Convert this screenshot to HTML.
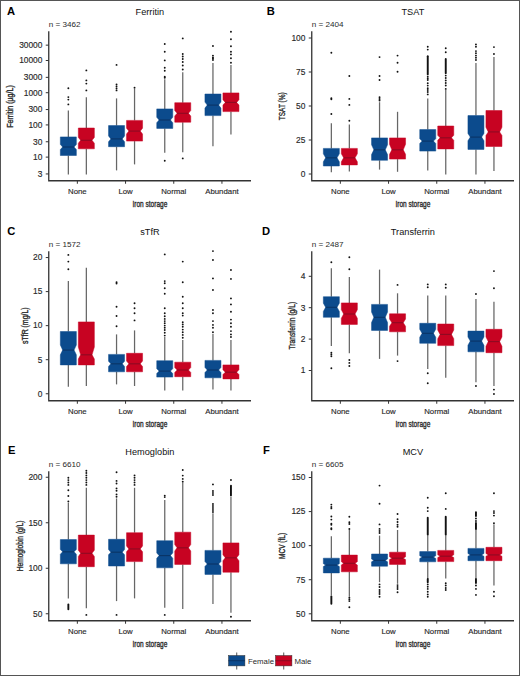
<!DOCTYPE html>
<html><head><meta charset="utf-8"><style>
html,body{margin:0;padding:0;background:#fff;}
svg{display:block;}
text{font-family:"Liberation Sans",sans-serif;}
</style></head><body>
<svg width="520" height="676" viewBox="0 0 520 676">
<rect x="0" y="0" width="520" height="676" fill="#fff"/>
<text x="6.9" y="14.7" font-size="11.2" font-weight="bold" fill="#000">A</text>
<text x="149.88" y="14.8" font-size="9.2" text-anchor="middle" fill="#111">Ferritin</text>
<text x="48.75" y="26.8" font-size="7.3" textLength="31.8" lengthAdjust="spacingAndGlyphs" fill="#2a2a2a">n = 3462</text>
<line x1="45.75" y1="173.95" x2="48.75" y2="173.95" stroke="#333333" stroke-width="1"/>
<text x="42.45" y="176.75" font-size="8.4" text-anchor="end" fill="#2a2a2a" stroke="#2a2a2a" stroke-width="0.15">3</text>
<line x1="45.75" y1="157.11" x2="48.75" y2="157.11" stroke="#333333" stroke-width="1"/>
<text x="42.45" y="159.91" font-size="8.4" text-anchor="end" fill="#2a2a2a" stroke="#2a2a2a" stroke-width="0.15">10</text>
<line x1="45.75" y1="141.75" x2="48.75" y2="141.75" stroke="#333333" stroke-width="1"/>
<text x="42.45" y="144.55" font-size="8.4" text-anchor="end" fill="#2a2a2a" stroke="#2a2a2a" stroke-width="0.15">30</text>
<line x1="45.75" y1="124.91" x2="48.75" y2="124.91" stroke="#333333" stroke-width="1"/>
<text x="42.45" y="127.71" font-size="8.4" text-anchor="end" fill="#2a2a2a" stroke="#2a2a2a" stroke-width="0.15">100</text>
<line x1="45.75" y1="109.55" x2="48.75" y2="109.55" stroke="#333333" stroke-width="1"/>
<text x="42.45" y="112.35" font-size="8.4" text-anchor="end" fill="#2a2a2a" stroke="#2a2a2a" stroke-width="0.15">300</text>
<line x1="45.75" y1="92.71" x2="48.75" y2="92.71" stroke="#333333" stroke-width="1"/>
<text x="42.45" y="95.51" font-size="8.4" text-anchor="end" fill="#2a2a2a" stroke="#2a2a2a" stroke-width="0.15">1000</text>
<line x1="45.75" y1="77.35" x2="48.75" y2="77.35" stroke="#333333" stroke-width="1"/>
<text x="42.45" y="80.15" font-size="8.4" text-anchor="end" fill="#2a2a2a" stroke="#2a2a2a" stroke-width="0.15">3000</text>
<line x1="45.75" y1="60.51" x2="48.75" y2="60.51" stroke="#333333" stroke-width="1"/>
<text x="42.45" y="63.31" font-size="8.4" text-anchor="end" fill="#2a2a2a" stroke="#2a2a2a" stroke-width="0.15">10000</text>
<line x1="45.75" y1="45.15" x2="48.75" y2="45.15" stroke="#333333" stroke-width="1"/>
<text x="42.45" y="47.95" font-size="8.4" text-anchor="end" fill="#2a2a2a" stroke="#2a2a2a" stroke-width="0.15">30000</text>
<text transform="translate(13.3,106.5) rotate(-90)" x="0" y="0" font-size="9" text-anchor="middle" textLength="42.6" lengthAdjust="spacingAndGlyphs" fill="#2a2a2a" stroke="#2a2a2a" stroke-width="0.35">Ferritin (µg/L)</text>
<line x1="77.35" y1="180.75" x2="77.35" y2="183.75" stroke="#333333" stroke-width="1"/>
<text x="77.35" y="193.6" font-size="7.8" text-anchor="middle" fill="#2a2a2a" stroke="#2a2a2a" stroke-width="0.15">None</text>
<line x1="125.55" y1="180.75" x2="125.55" y2="183.75" stroke="#333333" stroke-width="1"/>
<text x="125.55" y="193.6" font-size="7.8" text-anchor="middle" fill="#2a2a2a" stroke="#2a2a2a" stroke-width="0.15">Low</text>
<line x1="173.75" y1="180.75" x2="173.75" y2="183.75" stroke="#333333" stroke-width="1"/>
<text x="173.75" y="193.6" font-size="7.8" text-anchor="middle" fill="#2a2a2a" stroke="#2a2a2a" stroke-width="0.15">Normal</text>
<line x1="221.95" y1="180.75" x2="221.95" y2="183.75" stroke="#333333" stroke-width="1"/>
<text x="221.95" y="193.6" font-size="7.8" text-anchor="middle" fill="#2a2a2a" stroke="#2a2a2a" stroke-width="0.15">Abundant</text>
<text x="149.88" y="207" font-size="8.8" text-anchor="middle" textLength="34.8" lengthAdjust="spacingAndGlyphs" fill="#2a2a2a" stroke="#2a2a2a" stroke-width="0.35">Iron storage</text>
<line x1="68.35" y1="110.4" x2="68.35" y2="136.9" stroke="#666666" stroke-width="1.25"/>
<line x1="68.35" y1="155.5" x2="68.35" y2="174.4" stroke="#666666" stroke-width="1.25"/>
<circle cx="68.35" cy="88.2" r="0.95" fill="#111"/>
<circle cx="68.35" cy="97.1" r="0.95" fill="#111"/>
<circle cx="68.35" cy="99.6" r="0.95" fill="#111"/>
<circle cx="68.35" cy="104.4" r="0.95" fill="#111"/>
<polygon points="60.35,136.9 76.35,136.9 76.35,144.4 74.05,147 76.35,149.6 76.35,155.5 60.35,155.5 60.35,149.6 62.65,147 60.35,144.4" fill="#0c4b8d" stroke="#0c4b8d" stroke-width="0.5"/>
<line x1="62.65" y1="147" x2="74.05" y2="147" stroke="#0a3466" stroke-width="1.1"/>
<line x1="86.35" y1="97.3" x2="86.35" y2="128" stroke="#666666" stroke-width="1.25"/>
<line x1="86.35" y1="148.8" x2="86.35" y2="174.4" stroke="#666666" stroke-width="1.25"/>
<circle cx="86.35" cy="70.4" r="0.95" fill="#111"/>
<circle cx="86.35" cy="80.4" r="0.95" fill="#111"/>
<circle cx="86.35" cy="83.6" r="0.95" fill="#111"/>
<circle cx="86.35" cy="90.4" r="0.95" fill="#111"/>
<polygon points="78.35,128 94.35,128 94.35,137.39 92.05,140.3 94.35,143.21 94.35,148.8 78.35,148.8 78.35,143.21 80.65,140.3 78.35,137.39" fill="#c70322" stroke="#c70322" stroke-width="0.5"/>
<line x1="80.65" y1="140.3" x2="92.05" y2="140.3" stroke="#8e0a22" stroke-width="1.1"/>
<line x1="116.55" y1="98.4" x2="116.55" y2="125.6" stroke="#666666" stroke-width="1.25"/>
<line x1="116.55" y1="146.7" x2="116.55" y2="170.4" stroke="#666666" stroke-width="1.25"/>
<circle cx="116.55" cy="64.9" r="0.95" fill="#111"/>
<circle cx="116.55" cy="84.5" r="0.95" fill="#111"/>
<circle cx="116.55" cy="86.5" r="0.95" fill="#111"/>
<circle cx="116.55" cy="88.5" r="0.95" fill="#111"/>
<circle cx="116.55" cy="90.4" r="0.95" fill="#111"/>
<polygon points="108.55,125.6 124.55,125.6 124.55,135.95 122.25,138.9 124.55,141.85 124.55,146.7 108.55,146.7 108.55,141.85 110.85,138.9 108.55,135.95" fill="#0c4b8d" stroke="#0c4b8d" stroke-width="0.5"/>
<line x1="110.85" y1="138.9" x2="122.25" y2="138.9" stroke="#0a3466" stroke-width="1.1"/>
<line x1="134.55" y1="89" x2="134.55" y2="120.4" stroke="#666666" stroke-width="1.25"/>
<line x1="134.55" y1="141.1" x2="134.55" y2="164.4" stroke="#666666" stroke-width="1.25"/>
<circle cx="134.55" cy="87.8" r="0.95" fill="#111"/>
<polygon points="126.55,120.4 142.55,120.4 142.55,128.2 140.25,131.1 142.55,134 142.55,141.1 126.55,141.1 126.55,134 128.85,131.1 126.55,128.2" fill="#c70322" stroke="#c70322" stroke-width="0.5"/>
<line x1="128.85" y1="131.1" x2="140.25" y2="131.1" stroke="#8e0a22" stroke-width="1.1"/>
<line x1="164.75" y1="79.3" x2="164.75" y2="108.9" stroke="#666666" stroke-width="1.25"/>
<line x1="164.75" y1="128.4" x2="164.75" y2="152.7" stroke="#666666" stroke-width="1.25"/>
<circle cx="164.75" cy="44" r="0.95" fill="#111"/>
<circle cx="164.75" cy="51.8" r="0.95" fill="#111"/>
<circle cx="164.75" cy="60.4" r="0.95" fill="#111"/>
<circle cx="164.75" cy="67.8" r="0.95" fill="#111"/>
<circle cx="164.75" cy="70.7" r="0.95" fill="#111"/>
<circle cx="164.75" cy="76.7" r="0.95" fill="#111"/>
<circle cx="164.75" cy="77.8" r="0.95" fill="#111"/>
<circle cx="164.75" cy="160.7" r="0.95" fill="#111"/>
<polygon points="156.75,108.9 172.75,108.9 172.75,117.27 170.45,120 172.75,122.73 172.75,128.4 156.75,128.4 156.75,122.73 159.05,120 156.75,117.27" fill="#0c4b8d" stroke="#0c4b8d" stroke-width="0.5"/>
<line x1="159.05" y1="120" x2="170.45" y2="120" stroke="#0a3466" stroke-width="1.1"/>
<line x1="182.75" y1="72.2" x2="182.75" y2="102.7" stroke="#666666" stroke-width="1.25"/>
<line x1="182.75" y1="122.2" x2="182.75" y2="152.2" stroke="#666666" stroke-width="1.25"/>
<circle cx="182.75" cy="38.4" r="0.95" fill="#111"/>
<circle cx="182.75" cy="54" r="0.95" fill="#111"/>
<circle cx="182.75" cy="56.5" r="0.95" fill="#111"/>
<circle cx="182.75" cy="59" r="0.95" fill="#111"/>
<circle cx="182.75" cy="62" r="0.95" fill="#111"/>
<circle cx="182.75" cy="65.5" r="0.95" fill="#111"/>
<circle cx="182.75" cy="69.5" r="0.95" fill="#111"/>
<circle cx="182.75" cy="158.4" r="0.95" fill="#111"/>
<polygon points="174.75,102.7 190.75,102.7 190.75,110.57 188.45,113.3 190.75,116.03 190.75,122.2 174.75,122.2 174.75,116.03 177.05,113.3 174.75,110.57" fill="#c70322" stroke="#c70322" stroke-width="0.5"/>
<line x1="177.05" y1="113.3" x2="188.45" y2="113.3" stroke="#8e0a22" stroke-width="1.1"/>
<line x1="212.95" y1="62.9" x2="212.95" y2="94" stroke="#666666" stroke-width="1.25"/>
<line x1="212.95" y1="115.6" x2="212.95" y2="146.2" stroke="#666666" stroke-width="1.25"/>
<circle cx="212.95" cy="46" r="0.95" fill="#111"/>
<circle cx="212.95" cy="55.6" r="0.95" fill="#111"/>
<circle cx="212.95" cy="57.5" r="0.95" fill="#111"/>
<circle cx="212.95" cy="58.5" r="0.95" fill="#111"/>
<circle cx="212.95" cy="60" r="0.95" fill="#111"/>
<polygon points="204.95,94 220.95,94 220.95,102.08 218.65,105.1 220.95,108.12 220.95,115.6 204.95,115.6 204.95,108.12 207.25,105.1 204.95,102.08" fill="#0c4b8d" stroke="#0c4b8d" stroke-width="0.5"/>
<line x1="207.25" y1="105.1" x2="218.65" y2="105.1" stroke="#0a3466" stroke-width="1.1"/>
<line x1="230.95" y1="65.1" x2="230.95" y2="92.9" stroke="#666666" stroke-width="1.25"/>
<line x1="230.95" y1="111.6" x2="230.95" y2="134.4" stroke="#666666" stroke-width="1.25"/>
<circle cx="230.95" cy="31.8" r="0.95" fill="#111"/>
<circle cx="230.95" cy="39.3" r="0.95" fill="#111"/>
<circle cx="230.95" cy="46.2" r="0.95" fill="#111"/>
<circle cx="230.95" cy="51.8" r="0.95" fill="#111"/>
<circle cx="230.95" cy="54.4" r="0.95" fill="#111"/>
<circle cx="230.95" cy="58.2" r="0.95" fill="#111"/>
<circle cx="230.95" cy="62.7" r="0.95" fill="#111"/>
<polygon points="222.95,92.9 238.95,92.9 238.95,99.78 236.65,102.4 238.95,105.02 238.95,111.6 222.95,111.6 222.95,105.02 225.25,102.4 222.95,99.78" fill="#c70322" stroke="#c70322" stroke-width="0.5"/>
<line x1="225.25" y1="102.4" x2="236.65" y2="102.4" stroke="#8e0a22" stroke-width="1.1"/>
<path d="M48.75,31.25 L48.75,180.75 L251,180.75" fill="none" stroke="#333333" stroke-width="1.3"/>
<text x="266.8" y="14.7" font-size="11.2" font-weight="bold" fill="#000">B</text>
<text x="412.88" y="14.8" font-size="9.2" text-anchor="middle" fill="#111">TSAT</text>
<text x="311.75" y="26.8" font-size="7.3" textLength="31.8" lengthAdjust="spacingAndGlyphs" fill="#2a2a2a">n = 2404</text>
<line x1="308.75" y1="174" x2="311.75" y2="174" stroke="#333333" stroke-width="1"/>
<text x="305.45" y="176.8" font-size="8.4" text-anchor="end" fill="#2a2a2a" stroke="#2a2a2a" stroke-width="0.15">0</text>
<line x1="308.75" y1="140" x2="311.75" y2="140" stroke="#333333" stroke-width="1"/>
<text x="305.45" y="142.8" font-size="8.4" text-anchor="end" fill="#2a2a2a" stroke="#2a2a2a" stroke-width="0.15">25</text>
<line x1="308.75" y1="106" x2="311.75" y2="106" stroke="#333333" stroke-width="1"/>
<text x="305.45" y="108.8" font-size="8.4" text-anchor="end" fill="#2a2a2a" stroke="#2a2a2a" stroke-width="0.15">50</text>
<line x1="308.75" y1="72" x2="311.75" y2="72" stroke="#333333" stroke-width="1"/>
<text x="305.45" y="74.8" font-size="8.4" text-anchor="end" fill="#2a2a2a" stroke="#2a2a2a" stroke-width="0.15">75</text>
<line x1="308.75" y1="38" x2="311.75" y2="38" stroke="#333333" stroke-width="1"/>
<text x="305.45" y="40.8" font-size="8.4" text-anchor="end" fill="#2a2a2a" stroke="#2a2a2a" stroke-width="0.15">100</text>
<text transform="translate(285.4,106.3) rotate(-90)" x="0" y="0" font-size="9" text-anchor="middle" textLength="27.9" lengthAdjust="spacingAndGlyphs" fill="#2a2a2a" stroke="#2a2a2a" stroke-width="0.35">TSAT (%)</text>
<line x1="340.35" y1="180.75" x2="340.35" y2="183.75" stroke="#333333" stroke-width="1"/>
<text x="340.35" y="193.6" font-size="7.8" text-anchor="middle" fill="#2a2a2a" stroke="#2a2a2a" stroke-width="0.15">None</text>
<line x1="388.55" y1="180.75" x2="388.55" y2="183.75" stroke="#333333" stroke-width="1"/>
<text x="388.55" y="193.6" font-size="7.8" text-anchor="middle" fill="#2a2a2a" stroke="#2a2a2a" stroke-width="0.15">Low</text>
<line x1="436.75" y1="180.75" x2="436.75" y2="183.75" stroke="#333333" stroke-width="1"/>
<text x="436.75" y="193.6" font-size="7.8" text-anchor="middle" fill="#2a2a2a" stroke="#2a2a2a" stroke-width="0.15">Normal</text>
<line x1="484.95" y1="180.75" x2="484.95" y2="183.75" stroke="#333333" stroke-width="1"/>
<text x="484.95" y="193.6" font-size="7.8" text-anchor="middle" fill="#2a2a2a" stroke="#2a2a2a" stroke-width="0.15">Abundant</text>
<text x="412.88" y="207" font-size="8.8" text-anchor="middle" textLength="34.8" lengthAdjust="spacingAndGlyphs" fill="#2a2a2a" stroke="#2a2a2a" stroke-width="0.35">Iron storage</text>
<line x1="331.35" y1="123.3" x2="331.35" y2="148.4" stroke="#666666" stroke-width="1.25"/>
<line x1="331.35" y1="166" x2="331.35" y2="172.2" stroke="#666666" stroke-width="1.25"/>
<circle cx="331.35" cy="52.7" r="0.95" fill="#111"/>
<circle cx="331.35" cy="98.2" r="0.95" fill="#111"/>
<circle cx="331.35" cy="99.3" r="0.95" fill="#111"/>
<circle cx="331.35" cy="114" r="0.95" fill="#111"/>
<polygon points="323.35,148.4 339.35,148.4 339.35,153.8 337.05,157.8 339.35,161.8 339.35,166 323.35,166 323.35,161.8 325.65,157.8 323.35,153.8" fill="#0c4b8d" stroke="#0c4b8d" stroke-width="0.5"/>
<line x1="325.65" y1="157.8" x2="337.05" y2="157.8" stroke="#0a3466" stroke-width="1.1"/>
<line x1="349.35" y1="124.4" x2="349.35" y2="148.4" stroke="#666666" stroke-width="1.25"/>
<line x1="349.35" y1="164.9" x2="349.35" y2="171.6" stroke="#666666" stroke-width="1.25"/>
<circle cx="349.35" cy="76" r="0.95" fill="#111"/>
<circle cx="349.35" cy="98.9" r="0.95" fill="#111"/>
<circle cx="349.35" cy="104.9" r="0.95" fill="#111"/>
<circle cx="349.35" cy="120.7" r="0.95" fill="#111"/>
<polygon points="341.35,148.4 357.35,148.4 357.35,153.8 355.05,157.8 357.35,161.8 357.35,164.9 341.35,164.9 341.35,161.8 343.65,157.8 341.35,153.8" fill="#c70322" stroke="#c70322" stroke-width="0.5"/>
<line x1="343.65" y1="157.8" x2="355.05" y2="157.8" stroke="#8e0a22" stroke-width="1.1"/>
<line x1="379.55" y1="102.2" x2="379.55" y2="137.9" stroke="#666666" stroke-width="1.25"/>
<line x1="379.55" y1="160.3" x2="379.55" y2="169.6" stroke="#666666" stroke-width="1.25"/>
<circle cx="379.55" cy="57.1" r="0.95" fill="#111"/>
<circle cx="379.55" cy="76" r="0.95" fill="#111"/>
<circle cx="379.55" cy="80" r="0.95" fill="#111"/>
<circle cx="379.55" cy="97.3" r="0.95" fill="#111"/>
<circle cx="379.55" cy="99" r="0.95" fill="#111"/>
<circle cx="379.55" cy="100.5" r="0.95" fill="#111"/>
<polygon points="371.55,137.9 387.55,137.9 387.55,144.8 385.25,149.8 387.55,154.6 387.55,160.3 371.55,160.3 371.55,154.6 373.85,149.8 371.55,144.8" fill="#0c4b8d" stroke="#0c4b8d" stroke-width="0.5"/>
<line x1="373.85" y1="149.8" x2="385.25" y2="149.8" stroke="#0a3466" stroke-width="1.1"/>
<line x1="397.55" y1="111.8" x2="397.55" y2="137.9" stroke="#666666" stroke-width="1.25"/>
<line x1="397.55" y1="159.1" x2="397.55" y2="171.8" stroke="#666666" stroke-width="1.25"/>
<circle cx="397.55" cy="55.6" r="0.95" fill="#111"/>
<circle cx="397.55" cy="62.7" r="0.95" fill="#111"/>
<circle cx="397.55" cy="71.8" r="0.95" fill="#111"/>
<polygon points="389.55,137.9 405.55,137.9 405.55,144.3 403.25,149.8 405.55,154.3 405.55,159.1 389.55,159.1 389.55,154.3 391.85,149.8 389.55,144.3" fill="#c70322" stroke="#c70322" stroke-width="0.5"/>
<line x1="391.85" y1="149.8" x2="403.25" y2="149.8" stroke="#8e0a22" stroke-width="1.1"/>
<line x1="427.75" y1="98.4" x2="427.75" y2="129.6" stroke="#666666" stroke-width="1.25"/>
<line x1="427.75" y1="151.1" x2="427.75" y2="170.4" stroke="#666666" stroke-width="1.25"/>
<circle cx="427.75" cy="46.7" r="0.95" fill="#111"/>
<circle cx="427.75" cy="49.6" r="0.95" fill="#111"/>
<line x1="427.75" y1="56.2" x2="427.75" y2="74.4" stroke="#111" stroke-width="1.9" stroke-linecap="round"/>
<circle cx="427.75" cy="76.7" r="0.95" fill="#111"/>
<circle cx="427.75" cy="78.5" r="0.95" fill="#111"/>
<circle cx="427.75" cy="80" r="0.95" fill="#111"/>
<circle cx="427.75" cy="83.3" r="0.95" fill="#111"/>
<circle cx="427.75" cy="85.6" r="0.95" fill="#111"/>
<circle cx="427.75" cy="88.2" r="0.95" fill="#111"/>
<circle cx="427.75" cy="90" r="0.95" fill="#111"/>
<circle cx="427.75" cy="92" r="0.95" fill="#111"/>
<circle cx="427.75" cy="94.4" r="0.95" fill="#111"/>
<polygon points="419.75,129.6 435.75,129.6 435.75,138.7 433.45,141.1 435.75,143.5 435.75,151.1 419.75,151.1 419.75,143.5 422.05,141.1 419.75,138.7" fill="#0c4b8d" stroke="#0c4b8d" stroke-width="0.5"/>
<line x1="422.05" y1="141.1" x2="433.45" y2="141.1" stroke="#0a3466" stroke-width="1.1"/>
<line x1="445.75" y1="90" x2="445.75" y2="126" stroke="#666666" stroke-width="1.25"/>
<line x1="445.75" y1="148.9" x2="445.75" y2="174.4" stroke="#666666" stroke-width="1.25"/>
<circle cx="445.75" cy="48.2" r="0.95" fill="#111"/>
<circle cx="445.75" cy="52.2" r="0.95" fill="#111"/>
<line x1="445.75" y1="58.9" x2="445.75" y2="73.3" stroke="#111" stroke-width="1.9" stroke-linecap="round"/>
<circle cx="445.75" cy="75.6" r="0.95" fill="#111"/>
<circle cx="445.75" cy="78" r="0.95" fill="#111"/>
<circle cx="445.75" cy="80.5" r="0.95" fill="#111"/>
<circle cx="445.75" cy="83" r="0.95" fill="#111"/>
<circle cx="445.75" cy="85.5" r="0.95" fill="#111"/>
<circle cx="445.75" cy="88.9" r="0.95" fill="#111"/>
<polygon points="437.75,126 453.75,126 453.75,135.28 451.45,137.8 453.75,140.32 453.75,148.9 437.75,148.9 437.75,140.32 440.05,137.8 437.75,135.28" fill="#c70322" stroke="#c70322" stroke-width="0.5"/>
<line x1="440.05" y1="137.8" x2="451.45" y2="137.8" stroke="#8e0a22" stroke-width="1.1"/>
<line x1="475.95" y1="62.9" x2="475.95" y2="115.6" stroke="#666666" stroke-width="1.25"/>
<line x1="475.95" y1="149.4" x2="475.95" y2="174.4" stroke="#666666" stroke-width="1.25"/>
<circle cx="475.95" cy="44.4" r="0.95" fill="#111"/>
<circle cx="475.95" cy="46.7" r="0.95" fill="#111"/>
<circle cx="475.95" cy="51.1" r="0.95" fill="#111"/>
<circle cx="475.95" cy="53.3" r="0.95" fill="#111"/>
<circle cx="475.95" cy="55.6" r="0.95" fill="#111"/>
<circle cx="475.95" cy="57.8" r="0.95" fill="#111"/>
<circle cx="475.95" cy="60" r="0.95" fill="#111"/>
<polygon points="467.95,115.6 483.95,115.6 483.95,133.38 481.65,137.1 483.95,140.82 483.95,149.4 467.95,149.4 467.95,140.82 470.25,137.1 467.95,133.38" fill="#0c4b8d" stroke="#0c4b8d" stroke-width="0.5"/>
<line x1="470.25" y1="137.1" x2="481.65" y2="137.1" stroke="#0a3466" stroke-width="1.1"/>
<line x1="493.95" y1="57.1" x2="493.95" y2="110.5" stroke="#666666" stroke-width="1.25"/>
<line x1="493.95" y1="146.5" x2="493.95" y2="171.1" stroke="#666666" stroke-width="1.25"/>
<circle cx="493.95" cy="47.1" r="0.95" fill="#111"/>
<circle cx="493.95" cy="54" r="0.95" fill="#111"/>
<polygon points="485.95,110.5 501.95,110.5 501.95,127.2 499.65,131.9 501.95,135.5 501.95,146.5 485.95,146.5 485.95,135.5 488.25,131.9 485.95,127.2" fill="#c70322" stroke="#c70322" stroke-width="0.5"/>
<line x1="488.25" y1="131.9" x2="499.65" y2="131.9" stroke="#8e0a22" stroke-width="1.1"/>
<path d="M311.75,31.25 L311.75,180.75 L514,180.75" fill="none" stroke="#333333" stroke-width="1.3"/>
<text x="7.2" y="234.7" font-size="11.2" font-weight="bold" fill="#000">C</text>
<text x="149.88" y="234.8" font-size="9.2" text-anchor="middle" fill="#111">sTfR</text>
<text x="48.75" y="246.8" font-size="7.3" textLength="31.8" lengthAdjust="spacingAndGlyphs" fill="#2a2a2a">n = 1572</text>
<line x1="45.75" y1="393.75" x2="48.75" y2="393.75" stroke="#333333" stroke-width="1"/>
<text x="42.45" y="396.55" font-size="8.4" text-anchor="end" fill="#2a2a2a" stroke="#2a2a2a" stroke-width="0.15">0</text>
<line x1="45.75" y1="359.7" x2="48.75" y2="359.7" stroke="#333333" stroke-width="1"/>
<text x="42.45" y="362.5" font-size="8.4" text-anchor="end" fill="#2a2a2a" stroke="#2a2a2a" stroke-width="0.15">5</text>
<line x1="45.75" y1="325.65" x2="48.75" y2="325.65" stroke="#333333" stroke-width="1"/>
<text x="42.45" y="328.45" font-size="8.4" text-anchor="end" fill="#2a2a2a" stroke="#2a2a2a" stroke-width="0.15">10</text>
<line x1="45.75" y1="291.6" x2="48.75" y2="291.6" stroke="#333333" stroke-width="1"/>
<text x="42.45" y="294.4" font-size="8.4" text-anchor="end" fill="#2a2a2a" stroke="#2a2a2a" stroke-width="0.15">15</text>
<line x1="45.75" y1="257.55" x2="48.75" y2="257.55" stroke="#333333" stroke-width="1"/>
<text x="42.45" y="260.35" font-size="8.4" text-anchor="end" fill="#2a2a2a" stroke="#2a2a2a" stroke-width="0.15">20</text>
<text transform="translate(28.1,325.7) rotate(-90)" x="0" y="0" font-size="9" text-anchor="middle" textLength="36.5" lengthAdjust="spacingAndGlyphs" fill="#2a2a2a" stroke="#2a2a2a" stroke-width="0.35">sTfR (mg/L)</text>
<line x1="77.35" y1="400.75" x2="77.35" y2="403.75" stroke="#333333" stroke-width="1"/>
<text x="77.35" y="413.6" font-size="7.8" text-anchor="middle" fill="#2a2a2a" stroke="#2a2a2a" stroke-width="0.15">None</text>
<line x1="125.55" y1="400.75" x2="125.55" y2="403.75" stroke="#333333" stroke-width="1"/>
<text x="125.55" y="413.6" font-size="7.8" text-anchor="middle" fill="#2a2a2a" stroke="#2a2a2a" stroke-width="0.15">Low</text>
<line x1="173.75" y1="400.75" x2="173.75" y2="403.75" stroke="#333333" stroke-width="1"/>
<text x="173.75" y="413.6" font-size="7.8" text-anchor="middle" fill="#2a2a2a" stroke="#2a2a2a" stroke-width="0.15">Normal</text>
<line x1="221.95" y1="400.75" x2="221.95" y2="403.75" stroke="#333333" stroke-width="1"/>
<text x="221.95" y="413.6" font-size="7.8" text-anchor="middle" fill="#2a2a2a" stroke="#2a2a2a" stroke-width="0.15">Abundant</text>
<text x="149.88" y="427" font-size="8.8" text-anchor="middle" textLength="34.8" lengthAdjust="spacingAndGlyphs" fill="#2a2a2a" stroke="#2a2a2a" stroke-width="0.35">Iron storage</text>
<line x1="68.35" y1="281.1" x2="68.35" y2="331.5" stroke="#666666" stroke-width="1.25"/>
<line x1="68.35" y1="364.9" x2="68.35" y2="386.7" stroke="#666666" stroke-width="1.25"/>
<circle cx="68.35" cy="254.9" r="0.95" fill="#111"/>
<circle cx="68.35" cy="261.6" r="0.95" fill="#111"/>
<circle cx="68.35" cy="269.3" r="0.95" fill="#111"/>
<polygon points="60.35,331.5 76.35,331.5 76.35,345 74.05,350.1 76.35,354.8 76.35,364.9 60.35,364.9 60.35,354.8 62.65,350.1 60.35,345" fill="#0c4b8d" stroke="#0c4b8d" stroke-width="0.5"/>
<line x1="62.65" y1="350.1" x2="74.05" y2="350.1" stroke="#0a3466" stroke-width="1.1"/>
<line x1="86.35" y1="267.8" x2="86.35" y2="321.9" stroke="#666666" stroke-width="1.25"/>
<line x1="86.35" y1="364.9" x2="86.35" y2="386" stroke="#666666" stroke-width="1.25"/>
<polygon points="78.35,321.9 94.35,321.9 94.35,347.1 92.05,354.8 94.35,359 94.35,364.9 78.35,364.9 78.35,359 80.65,354.8 78.35,347.1" fill="#c70322" stroke="#c70322" stroke-width="0.5"/>
<line x1="80.65" y1="354.8" x2="92.05" y2="354.8" stroke="#8e0a22" stroke-width="1.1"/>
<line x1="116.55" y1="334.4" x2="116.55" y2="354.4" stroke="#666666" stroke-width="1.25"/>
<line x1="116.55" y1="371.8" x2="116.55" y2="384.4" stroke="#666666" stroke-width="1.25"/>
<circle cx="116.55" cy="282.3" r="0.95" fill="#111"/>
<circle cx="116.55" cy="283.5" r="0.95" fill="#111"/>
<circle cx="116.55" cy="306.7" r="0.95" fill="#111"/>
<circle cx="116.55" cy="316" r="0.95" fill="#111"/>
<circle cx="116.55" cy="326.2" r="0.95" fill="#111"/>
<polygon points="108.55,354.4 124.55,354.4 124.55,361.19 122.25,363.8 124.55,366.41 124.55,371.8 108.55,371.8 108.55,366.41 110.85,363.8 108.55,361.19" fill="#0c4b8d" stroke="#0c4b8d" stroke-width="0.5"/>
<line x1="110.85" y1="363.8" x2="122.25" y2="363.8" stroke="#0a3466" stroke-width="1.1"/>
<line x1="134.55" y1="330.4" x2="134.55" y2="353.3" stroke="#666666" stroke-width="1.25"/>
<line x1="134.55" y1="371.8" x2="134.55" y2="386" stroke="#666666" stroke-width="1.25"/>
<circle cx="134.55" cy="303.3" r="0.95" fill="#111"/>
<circle cx="134.55" cy="308.2" r="0.95" fill="#111"/>
<circle cx="134.55" cy="313.3" r="0.95" fill="#111"/>
<circle cx="134.55" cy="320.4" r="0.95" fill="#111"/>
<polygon points="126.55,353.3 142.55,353.3 142.55,361.03 140.25,363.8 142.55,366.57 142.55,371.8 126.55,371.8 126.55,366.57 128.85,363.8 126.55,361.03" fill="#c70322" stroke="#c70322" stroke-width="0.5"/>
<line x1="128.85" y1="363.8" x2="140.25" y2="363.8" stroke="#8e0a22" stroke-width="1.1"/>
<line x1="164.75" y1="337.1" x2="164.75" y2="360.7" stroke="#666666" stroke-width="1.25"/>
<line x1="164.75" y1="377.1" x2="164.75" y2="390.4" stroke="#666666" stroke-width="1.25"/>
<circle cx="164.75" cy="254.4" r="0.95" fill="#111"/>
<circle cx="164.75" cy="281.1" r="0.95" fill="#111"/>
<circle cx="164.75" cy="283.3" r="0.95" fill="#111"/>
<circle cx="164.75" cy="288.2" r="0.95" fill="#111"/>
<circle cx="164.75" cy="293.8" r="0.95" fill="#111"/>
<circle cx="164.75" cy="308.2" r="0.95" fill="#111"/>
<circle cx="164.75" cy="313.3" r="0.95" fill="#111"/>
<circle cx="164.75" cy="316.2" r="0.95" fill="#111"/>
<circle cx="164.75" cy="318.9" r="0.95" fill="#111"/>
<circle cx="164.75" cy="321.1" r="0.95" fill="#111"/>
<circle cx="164.75" cy="323.3" r="0.95" fill="#111"/>
<circle cx="164.75" cy="325.6" r="0.95" fill="#111"/>
<circle cx="164.75" cy="327.8" r="0.95" fill="#111"/>
<circle cx="164.75" cy="330" r="0.95" fill="#111"/>
<circle cx="164.75" cy="332.7" r="0.95" fill="#111"/>
<circle cx="164.75" cy="335.6" r="0.95" fill="#111"/>
<polygon points="156.75,360.7 172.75,360.7 172.75,368.64 170.45,371.1 172.75,373.56 172.75,377.1 156.75,377.1 156.75,373.56 159.05,371.1 156.75,368.64" fill="#0c4b8d" stroke="#0c4b8d" stroke-width="0.5"/>
<line x1="159.05" y1="371.1" x2="170.45" y2="371.1" stroke="#0a3466" stroke-width="1.1"/>
<line x1="182.75" y1="340" x2="182.75" y2="362.2" stroke="#666666" stroke-width="1.25"/>
<line x1="182.75" y1="376.7" x2="182.75" y2="390.4" stroke="#666666" stroke-width="1.25"/>
<circle cx="182.75" cy="261.6" r="0.95" fill="#111"/>
<circle cx="182.75" cy="282.2" r="0.95" fill="#111"/>
<circle cx="182.75" cy="296.7" r="0.95" fill="#111"/>
<circle cx="182.75" cy="303.3" r="0.95" fill="#111"/>
<circle cx="182.75" cy="308.2" r="0.95" fill="#111"/>
<circle cx="182.75" cy="313.3" r="0.95" fill="#111"/>
<circle cx="182.75" cy="315.6" r="0.95" fill="#111"/>
<circle cx="182.75" cy="322.2" r="0.95" fill="#111"/>
<circle cx="182.75" cy="324.4" r="0.95" fill="#111"/>
<circle cx="182.75" cy="326.7" r="0.95" fill="#111"/>
<circle cx="182.75" cy="329.6" r="0.95" fill="#111"/>
<circle cx="182.75" cy="332.2" r="0.95" fill="#111"/>
<circle cx="182.75" cy="334.9" r="0.95" fill="#111"/>
<circle cx="182.75" cy="337.8" r="0.95" fill="#111"/>
<polygon points="174.75,362.2 190.75,362.2 190.75,367.6 188.45,370 190.75,372.4 190.75,376.7 174.75,376.7 174.75,372.4 177.05,370 174.75,367.6" fill="#c70322" stroke="#c70322" stroke-width="0.5"/>
<line x1="177.05" y1="370" x2="188.45" y2="370" stroke="#8e0a22" stroke-width="1.1"/>
<line x1="212.95" y1="334" x2="212.95" y2="360.4" stroke="#666666" stroke-width="1.25"/>
<line x1="212.95" y1="377.8" x2="212.95" y2="389.6" stroke="#666666" stroke-width="1.25"/>
<circle cx="212.95" cy="251.1" r="0.95" fill="#111"/>
<circle cx="212.95" cy="260" r="0.95" fill="#111"/>
<circle cx="212.95" cy="278.4" r="0.95" fill="#111"/>
<circle cx="212.95" cy="290" r="0.95" fill="#111"/>
<circle cx="212.95" cy="310" r="0.95" fill="#111"/>
<circle cx="212.95" cy="313.3" r="0.95" fill="#111"/>
<circle cx="212.95" cy="321.1" r="0.95" fill="#111"/>
<circle cx="212.95" cy="324.9" r="0.95" fill="#111"/>
<circle cx="212.95" cy="327.8" r="0.95" fill="#111"/>
<circle cx="212.95" cy="332.2" r="0.95" fill="#111"/>
<polygon points="204.95,360.4 220.95,360.4 220.95,367.39 218.65,370 220.95,372.61 220.95,377.8 204.95,377.8 204.95,372.61 207.25,370 204.95,367.39" fill="#0c4b8d" stroke="#0c4b8d" stroke-width="0.5"/>
<line x1="207.25" y1="370" x2="218.65" y2="370" stroke="#0a3466" stroke-width="1.1"/>
<line x1="230.95" y1="340" x2="230.95" y2="364.9" stroke="#666666" stroke-width="1.25"/>
<line x1="230.95" y1="378.9" x2="230.95" y2="390.4" stroke="#666666" stroke-width="1.25"/>
<circle cx="230.95" cy="270" r="0.95" fill="#111"/>
<circle cx="230.95" cy="278.9" r="0.95" fill="#111"/>
<circle cx="230.95" cy="298.4" r="0.95" fill="#111"/>
<circle cx="230.95" cy="304.4" r="0.95" fill="#111"/>
<circle cx="230.95" cy="311.8" r="0.95" fill="#111"/>
<circle cx="230.95" cy="319.6" r="0.95" fill="#111"/>
<circle cx="230.95" cy="323.3" r="0.95" fill="#111"/>
<circle cx="230.95" cy="326.7" r="0.95" fill="#111"/>
<circle cx="230.95" cy="331.1" r="0.95" fill="#111"/>
<circle cx="230.95" cy="334.4" r="0.95" fill="#111"/>
<circle cx="230.95" cy="337" r="0.95" fill="#111"/>
<polygon points="222.95,364.9 238.95,364.9 238.95,369.8 236.65,372.2 238.95,374.6 238.95,378.9 222.95,378.9 222.95,374.6 225.25,372.2 222.95,369.8" fill="#c70322" stroke="#c70322" stroke-width="0.5"/>
<line x1="225.25" y1="372.2" x2="236.65" y2="372.2" stroke="#8e0a22" stroke-width="1.1"/>
<path d="M48.75,251.25 L48.75,400.75 L251,400.75" fill="none" stroke="#333333" stroke-width="1.3"/>
<text x="262" y="234.7" font-size="11.2" font-weight="bold" fill="#000">D</text>
<text x="412.88" y="234.8" font-size="9.2" text-anchor="middle" fill="#111">Transferrin</text>
<text x="311.75" y="246.8" font-size="7.3" textLength="31.8" lengthAdjust="spacingAndGlyphs" fill="#2a2a2a">n = 2487</text>
<line x1="308.75" y1="370.5" x2="311.75" y2="370.5" stroke="#333333" stroke-width="1"/>
<text x="305.45" y="373.3" font-size="8.4" text-anchor="end" fill="#2a2a2a" stroke="#2a2a2a" stroke-width="0.15">1</text>
<line x1="308.75" y1="339.1" x2="311.75" y2="339.1" stroke="#333333" stroke-width="1"/>
<text x="305.45" y="341.9" font-size="8.4" text-anchor="end" fill="#2a2a2a" stroke="#2a2a2a" stroke-width="0.15">2</text>
<line x1="308.75" y1="307.7" x2="311.75" y2="307.7" stroke="#333333" stroke-width="1"/>
<text x="305.45" y="310.5" font-size="8.4" text-anchor="end" fill="#2a2a2a" stroke="#2a2a2a" stroke-width="0.15">3</text>
<line x1="308.75" y1="276.3" x2="311.75" y2="276.3" stroke="#333333" stroke-width="1"/>
<text x="305.45" y="279.1" font-size="8.4" text-anchor="end" fill="#2a2a2a" stroke="#2a2a2a" stroke-width="0.15">4</text>
<text transform="translate(294.8,325.7) rotate(-90)" x="0" y="0" font-size="9" text-anchor="middle" textLength="47.6" lengthAdjust="spacingAndGlyphs" fill="#2a2a2a" stroke="#2a2a2a" stroke-width="0.35">Transferrin (g/L)</text>
<line x1="340.35" y1="400.75" x2="340.35" y2="403.75" stroke="#333333" stroke-width="1"/>
<text x="340.35" y="413.6" font-size="7.8" text-anchor="middle" fill="#2a2a2a" stroke="#2a2a2a" stroke-width="0.15">None</text>
<line x1="388.55" y1="400.75" x2="388.55" y2="403.75" stroke="#333333" stroke-width="1"/>
<text x="388.55" y="413.6" font-size="7.8" text-anchor="middle" fill="#2a2a2a" stroke="#2a2a2a" stroke-width="0.15">Low</text>
<line x1="436.75" y1="400.75" x2="436.75" y2="403.75" stroke="#333333" stroke-width="1"/>
<text x="436.75" y="413.6" font-size="7.8" text-anchor="middle" fill="#2a2a2a" stroke="#2a2a2a" stroke-width="0.15">Normal</text>
<line x1="484.95" y1="400.75" x2="484.95" y2="403.75" stroke="#333333" stroke-width="1"/>
<text x="484.95" y="413.6" font-size="7.8" text-anchor="middle" fill="#2a2a2a" stroke="#2a2a2a" stroke-width="0.15">Abundant</text>
<text x="412.88" y="427" font-size="8.8" text-anchor="middle" textLength="34.8" lengthAdjust="spacingAndGlyphs" fill="#2a2a2a" stroke="#2a2a2a" stroke-width="0.35">Iron storage</text>
<line x1="331.35" y1="268.2" x2="331.35" y2="296.7" stroke="#666666" stroke-width="1.25"/>
<line x1="331.35" y1="317.3" x2="331.35" y2="346" stroke="#666666" stroke-width="1.25"/>
<circle cx="331.35" cy="262.2" r="0.95" fill="#111"/>
<circle cx="331.35" cy="352.7" r="0.95" fill="#111"/>
<circle cx="331.35" cy="354.4" r="0.95" fill="#111"/>
<circle cx="331.35" cy="356.2" r="0.95" fill="#111"/>
<circle cx="331.35" cy="368.2" r="0.95" fill="#111"/>
<polygon points="323.35,296.7 339.35,296.7 339.35,303.18 337.05,307.3 339.35,311.42 339.35,317.3 323.35,317.3 323.35,311.42 325.65,307.3 323.35,303.18" fill="#0c4b8d" stroke="#0c4b8d" stroke-width="0.5"/>
<line x1="325.65" y1="307.3" x2="337.05" y2="307.3" stroke="#0a3466" stroke-width="1.1"/>
<line x1="349.35" y1="277.1" x2="349.35" y2="302.9" stroke="#666666" stroke-width="1.25"/>
<line x1="349.35" y1="324.4" x2="349.35" y2="353.3" stroke="#666666" stroke-width="1.25"/>
<circle cx="349.35" cy="257.3" r="0.95" fill="#111"/>
<circle cx="349.35" cy="269.3" r="0.95" fill="#111"/>
<circle cx="349.35" cy="360" r="0.95" fill="#111"/>
<circle cx="349.35" cy="362.9" r="0.95" fill="#111"/>
<circle cx="349.35" cy="366" r="0.95" fill="#111"/>
<polygon points="341.35,302.9 357.35,302.9 357.35,309.7 355.05,314 357.35,318.3 357.35,324.4 341.35,324.4 341.35,318.3 343.65,314 341.35,309.7" fill="#c70322" stroke="#c70322" stroke-width="0.5"/>
<line x1="343.65" y1="314" x2="355.05" y2="314" stroke="#8e0a22" stroke-width="1.1"/>
<line x1="379.55" y1="269.6" x2="379.55" y2="304.4" stroke="#666666" stroke-width="1.25"/>
<line x1="379.55" y1="330.4" x2="379.55" y2="358.9" stroke="#666666" stroke-width="1.25"/>
<polygon points="371.55,304.4 387.55,304.4 387.55,312.1 385.25,317.3 387.55,322.5 387.55,330.4 371.55,330.4 371.55,322.5 373.85,317.3 371.55,312.1" fill="#0c4b8d" stroke="#0c4b8d" stroke-width="0.5"/>
<line x1="373.85" y1="317.3" x2="385.25" y2="317.3" stroke="#0a3466" stroke-width="1.1"/>
<line x1="397.55" y1="293.3" x2="397.55" y2="313.8" stroke="#666666" stroke-width="1.25"/>
<line x1="397.55" y1="331.8" x2="397.55" y2="355.6" stroke="#666666" stroke-width="1.25"/>
<circle cx="397.55" cy="284.9" r="0.95" fill="#111"/>
<circle cx="397.55" cy="361.1" r="0.95" fill="#111"/>
<polygon points="389.55,313.8 405.55,313.8 405.55,319.1 403.25,322.7 405.55,326.3 405.55,331.8 389.55,331.8 389.55,326.3 391.85,322.7 389.55,319.1" fill="#c70322" stroke="#c70322" stroke-width="0.5"/>
<line x1="391.85" y1="322.7" x2="403.25" y2="322.7" stroke="#8e0a22" stroke-width="1.1"/>
<line x1="427.75" y1="295.6" x2="427.75" y2="323.3" stroke="#666666" stroke-width="1.25"/>
<line x1="427.75" y1="343.3" x2="427.75" y2="368.9" stroke="#666666" stroke-width="1.25"/>
<circle cx="427.75" cy="284.4" r="0.95" fill="#111"/>
<circle cx="427.75" cy="287.3" r="0.95" fill="#111"/>
<circle cx="427.75" cy="373.3" r="0.95" fill="#111"/>
<circle cx="427.75" cy="383.3" r="0.95" fill="#111"/>
<polygon points="419.75,323.3 435.75,323.3 435.75,329.3 433.45,333.3 435.75,337.3 435.75,343.3 419.75,343.3 419.75,337.3 422.05,333.3 419.75,329.3" fill="#0c4b8d" stroke="#0c4b8d" stroke-width="0.5"/>
<line x1="422.05" y1="333.3" x2="433.45" y2="333.3" stroke="#0a3466" stroke-width="1.1"/>
<line x1="445.75" y1="295.6" x2="445.75" y2="324" stroke="#666666" stroke-width="1.25"/>
<line x1="445.75" y1="345.6" x2="445.75" y2="377.8" stroke="#666666" stroke-width="1.25"/>
<circle cx="445.75" cy="284.4" r="0.95" fill="#111"/>
<circle cx="445.75" cy="287.8" r="0.95" fill="#111"/>
<polygon points="437.75,324 453.75,324 453.75,330.08 451.45,334.4 453.75,338.72 453.75,345.6 437.75,345.6 437.75,338.72 440.05,334.4 437.75,330.08" fill="#c70322" stroke="#c70322" stroke-width="0.5"/>
<line x1="440.05" y1="334.4" x2="451.45" y2="334.4" stroke="#8e0a22" stroke-width="1.1"/>
<line x1="475.95" y1="298.9" x2="475.95" y2="331.1" stroke="#666666" stroke-width="1.25"/>
<line x1="475.95" y1="351.8" x2="475.95" y2="382.2" stroke="#666666" stroke-width="1.25"/>
<circle cx="475.95" cy="294" r="0.95" fill="#111"/>
<circle cx="475.95" cy="386" r="0.95" fill="#111"/>
<polygon points="467.95,331.1 483.95,331.1 483.95,336.96 481.65,341.1 483.95,345.24 483.95,351.8 467.95,351.8 467.95,345.24 470.25,341.1 467.95,336.96" fill="#0c4b8d" stroke="#0c4b8d" stroke-width="0.5"/>
<line x1="470.25" y1="341.1" x2="481.65" y2="341.1" stroke="#0a3466" stroke-width="1.1"/>
<line x1="493.95" y1="301.8" x2="493.95" y2="329.3" stroke="#666666" stroke-width="1.25"/>
<line x1="493.95" y1="352.7" x2="493.95" y2="386" stroke="#666666" stroke-width="1.25"/>
<circle cx="493.95" cy="271.1" r="0.95" fill="#111"/>
<circle cx="493.95" cy="288.2" r="0.95" fill="#111"/>
<circle cx="493.95" cy="389.6" r="0.95" fill="#111"/>
<circle cx="493.95" cy="394" r="0.95" fill="#111"/>
<polygon points="485.95,329.3 501.95,329.3 501.95,336.92 499.65,341.6 501.95,346.28 501.95,352.7 485.95,352.7 485.95,346.28 488.25,341.6 485.95,336.92" fill="#c70322" stroke="#c70322" stroke-width="0.5"/>
<line x1="488.25" y1="341.6" x2="499.65" y2="341.6" stroke="#8e0a22" stroke-width="1.1"/>
<path d="M311.75,251.25 L311.75,400.75 L514,400.75" fill="none" stroke="#333333" stroke-width="1.3"/>
<text x="8.1" y="454.4" font-size="11.2" font-weight="bold" fill="#000">E</text>
<text x="149.88" y="454.8" font-size="9.2" text-anchor="middle" fill="#111">Hemoglobin</text>
<text x="48.75" y="466.8" font-size="7.3" textLength="31.8" lengthAdjust="spacingAndGlyphs" fill="#2a2a2a">n = 6610</text>
<line x1="45.75" y1="613.75" x2="48.75" y2="613.75" stroke="#333333" stroke-width="1"/>
<text x="42.45" y="616.55" font-size="8.4" text-anchor="end" fill="#2a2a2a" stroke="#2a2a2a" stroke-width="0.15">50</text>
<line x1="45.75" y1="568.25" x2="48.75" y2="568.25" stroke="#333333" stroke-width="1"/>
<text x="42.45" y="571.05" font-size="8.4" text-anchor="end" fill="#2a2a2a" stroke="#2a2a2a" stroke-width="0.15">100</text>
<line x1="45.75" y1="522.75" x2="48.75" y2="522.75" stroke="#333333" stroke-width="1"/>
<text x="42.45" y="525.55" font-size="8.4" text-anchor="end" fill="#2a2a2a" stroke="#2a2a2a" stroke-width="0.15">150</text>
<line x1="45.75" y1="477.25" x2="48.75" y2="477.25" stroke="#333333" stroke-width="1"/>
<text x="42.45" y="480.05" font-size="8.4" text-anchor="end" fill="#2a2a2a" stroke="#2a2a2a" stroke-width="0.15">200</text>
<text transform="translate(22.5,545.9) rotate(-90)" x="0" y="0" font-size="9" text-anchor="middle" textLength="50.9" lengthAdjust="spacingAndGlyphs" fill="#2a2a2a" stroke="#2a2a2a" stroke-width="0.35">Hemoglobin (g/L)</text>
<line x1="77.35" y1="620.75" x2="77.35" y2="623.75" stroke="#333333" stroke-width="1"/>
<text x="77.35" y="633.6" font-size="7.8" text-anchor="middle" fill="#2a2a2a" stroke="#2a2a2a" stroke-width="0.15">None</text>
<line x1="125.55" y1="620.75" x2="125.55" y2="623.75" stroke="#333333" stroke-width="1"/>
<text x="125.55" y="633.6" font-size="7.8" text-anchor="middle" fill="#2a2a2a" stroke="#2a2a2a" stroke-width="0.15">Low</text>
<line x1="173.75" y1="620.75" x2="173.75" y2="623.75" stroke="#333333" stroke-width="1"/>
<text x="173.75" y="633.6" font-size="7.8" text-anchor="middle" fill="#2a2a2a" stroke="#2a2a2a" stroke-width="0.15">Normal</text>
<line x1="221.95" y1="620.75" x2="221.95" y2="623.75" stroke="#333333" stroke-width="1"/>
<text x="221.95" y="633.6" font-size="7.8" text-anchor="middle" fill="#2a2a2a" stroke="#2a2a2a" stroke-width="0.15">Abundant</text>
<text x="149.88" y="647" font-size="8.8" text-anchor="middle" textLength="34.8" lengthAdjust="spacingAndGlyphs" fill="#2a2a2a" stroke="#2a2a2a" stroke-width="0.35">Iron storage</text>
<line x1="68.35" y1="502.9" x2="68.35" y2="539.6" stroke="#666666" stroke-width="1.25"/>
<line x1="68.35" y1="563.8" x2="68.35" y2="598.4" stroke="#666666" stroke-width="1.25"/>
<circle cx="68.35" cy="477.8" r="0.95" fill="#111"/>
<circle cx="68.35" cy="480.1" r="0.95" fill="#111"/>
<circle cx="68.35" cy="482.5" r="0.95" fill="#111"/>
<circle cx="68.35" cy="484.9" r="0.95" fill="#111"/>
<circle cx="68.35" cy="490.3" r="0.95" fill="#111"/>
<circle cx="68.35" cy="496" r="0.95" fill="#111"/>
<circle cx="68.35" cy="501.5" r="0.95" fill="#111"/>
<line x1="68.35" y1="604.4" x2="68.35" y2="609.3" stroke="#111" stroke-width="1.9" stroke-linecap="round"/>
<polygon points="60.35,539.6 76.35,539.6 76.35,549.38 74.05,551.8 76.35,554.22 76.35,563.8 60.35,563.8 60.35,554.22 62.65,551.8 60.35,549.38" fill="#0c4b8d" stroke="#0c4b8d" stroke-width="0.5"/>
<line x1="62.65" y1="551.8" x2="74.05" y2="551.8" stroke="#0a3466" stroke-width="1.1"/>
<line x1="86.35" y1="487.8" x2="86.35" y2="535.1" stroke="#666666" stroke-width="1.25"/>
<line x1="86.35" y1="566.7" x2="86.35" y2="608.2" stroke="#666666" stroke-width="1.25"/>
<circle cx="86.35" cy="470.7" r="0.95" fill="#111"/>
<circle cx="86.35" cy="473" r="0.95" fill="#111"/>
<circle cx="86.35" cy="475.4" r="0.95" fill="#111"/>
<circle cx="86.35" cy="477.8" r="0.95" fill="#111"/>
<circle cx="86.35" cy="480.1" r="0.95" fill="#111"/>
<circle cx="86.35" cy="482.5" r="0.95" fill="#111"/>
<circle cx="86.35" cy="484.9" r="0.95" fill="#111"/>
<circle cx="86.35" cy="614.9" r="0.95" fill="#111"/>
<polygon points="78.35,535.1 94.35,535.1 94.35,550.14 92.05,553.3 94.35,556.46 94.35,566.7 78.35,566.7 78.35,556.46 80.65,553.3 78.35,550.14" fill="#c70322" stroke="#c70322" stroke-width="0.5"/>
<line x1="80.65" y1="553.3" x2="92.05" y2="553.3" stroke="#8e0a22" stroke-width="1.1"/>
<line x1="116.55" y1="498.4" x2="116.55" y2="539.3" stroke="#666666" stroke-width="1.25"/>
<line x1="116.55" y1="566" x2="116.55" y2="601.1" stroke="#666666" stroke-width="1.25"/>
<circle cx="116.55" cy="472.3" r="0.95" fill="#111"/>
<circle cx="116.55" cy="480.9" r="0.95" fill="#111"/>
<circle cx="116.55" cy="483.5" r="0.95" fill="#111"/>
<circle cx="116.55" cy="488.4" r="0.95" fill="#111"/>
<circle cx="116.55" cy="490.8" r="0.95" fill="#111"/>
<circle cx="116.55" cy="494.4" r="0.95" fill="#111"/>
<circle cx="116.55" cy="496.7" r="0.95" fill="#111"/>
<circle cx="116.55" cy="614.9" r="0.95" fill="#111"/>
<polygon points="108.55,539.3 124.55,539.3 124.55,549.53 122.25,552.2 124.55,554.87 124.55,566 108.55,566 108.55,554.87 110.85,552.2 108.55,549.53" fill="#0c4b8d" stroke="#0c4b8d" stroke-width="0.5"/>
<line x1="110.85" y1="552.2" x2="122.25" y2="552.2" stroke="#0a3466" stroke-width="1.1"/>
<line x1="134.55" y1="487.8" x2="134.55" y2="532.7" stroke="#666666" stroke-width="1.25"/>
<line x1="134.55" y1="561.6" x2="134.55" y2="598.4" stroke="#666666" stroke-width="1.25"/>
<circle cx="134.55" cy="475.4" r="0.95" fill="#111"/>
<circle cx="134.55" cy="477.8" r="0.95" fill="#111"/>
<circle cx="134.55" cy="480.1" r="0.95" fill="#111"/>
<circle cx="134.55" cy="482.5" r="0.95" fill="#111"/>
<circle cx="134.55" cy="484.9" r="0.95" fill="#111"/>
<polygon points="126.55,532.7 142.55,532.7 142.55,546.01 140.25,548.9 142.55,551.79 142.55,561.6 126.55,561.6 126.55,551.79 128.85,548.9 126.55,546.01" fill="#c70322" stroke="#c70322" stroke-width="0.5"/>
<line x1="128.85" y1="548.9" x2="140.25" y2="548.9" stroke="#8e0a22" stroke-width="1.1"/>
<line x1="164.75" y1="500" x2="164.75" y2="540.7" stroke="#666666" stroke-width="1.25"/>
<line x1="164.75" y1="567.8" x2="164.75" y2="607.8" stroke="#666666" stroke-width="1.25"/>
<circle cx="164.75" cy="495.6" r="0.95" fill="#111"/>
<circle cx="164.75" cy="497.1" r="0.95" fill="#111"/>
<circle cx="164.75" cy="614.9" r="0.95" fill="#111"/>
<polygon points="156.75,540.7 172.75,540.7 172.75,552.89 170.45,555.6 172.75,558.31 172.75,567.8 156.75,567.8 156.75,558.31 159.05,555.6 156.75,552.89" fill="#0c4b8d" stroke="#0c4b8d" stroke-width="0.5"/>
<line x1="159.05" y1="555.6" x2="170.45" y2="555.6" stroke="#0a3466" stroke-width="1.1"/>
<line x1="182.75" y1="482.2" x2="182.75" y2="532.2" stroke="#666666" stroke-width="1.25"/>
<line x1="182.75" y1="564.4" x2="182.75" y2="608.9" stroke="#666666" stroke-width="1.25"/>
<circle cx="182.75" cy="470" r="0.95" fill="#111"/>
<circle cx="182.75" cy="475.6" r="0.95" fill="#111"/>
<circle cx="182.75" cy="478.9" r="0.95" fill="#111"/>
<circle cx="182.75" cy="481.6" r="0.95" fill="#111"/>
<polygon points="174.75,532.2 190.75,532.2 190.75,544.58 188.45,547.8 190.75,551.02 190.75,564.4 174.75,564.4 174.75,551.02 177.05,547.8 174.75,544.58" fill="#c70322" stroke="#c70322" stroke-width="0.5"/>
<line x1="177.05" y1="547.8" x2="188.45" y2="547.8" stroke="#8e0a22" stroke-width="1.1"/>
<line x1="212.95" y1="513.3" x2="212.95" y2="550.4" stroke="#666666" stroke-width="1.25"/>
<line x1="212.95" y1="574.4" x2="212.95" y2="604" stroke="#666666" stroke-width="1.25"/>
<circle cx="212.95" cy="484.4" r="0.95" fill="#111"/>
<circle cx="212.95" cy="491" r="0.95" fill="#111"/>
<circle cx="212.95" cy="493" r="0.95" fill="#111"/>
<circle cx="212.95" cy="495" r="0.95" fill="#111"/>
<circle cx="212.95" cy="504" r="0.95" fill="#111"/>
<circle cx="212.95" cy="506" r="0.95" fill="#111"/>
<circle cx="212.95" cy="508" r="0.95" fill="#111"/>
<circle cx="212.95" cy="510" r="0.95" fill="#111"/>
<circle cx="212.95" cy="512" r="0.95" fill="#111"/>
<polygon points="204.95,550.4 220.95,550.4 220.95,561.6 218.65,564 220.95,566.4 220.95,574.4 204.95,574.4 204.95,566.4 207.25,564 204.95,561.6" fill="#0c4b8d" stroke="#0c4b8d" stroke-width="0.5"/>
<line x1="207.25" y1="564" x2="218.65" y2="564" stroke="#0a3466" stroke-width="1.1"/>
<line x1="230.95" y1="497.1" x2="230.95" y2="542.9" stroke="#666666" stroke-width="1.25"/>
<line x1="230.95" y1="572.2" x2="230.95" y2="612.7" stroke="#666666" stroke-width="1.25"/>
<circle cx="230.95" cy="480" r="0.95" fill="#111"/>
<line x1="230.95" y1="485.6" x2="230.95" y2="495.5" stroke="#111" stroke-width="1.9" stroke-linecap="round"/>
<circle cx="230.95" cy="616.7" r="0.95" fill="#111"/>
<polygon points="222.95,542.9 238.95,542.9 238.95,554.87 236.65,557.8 238.95,560.73 238.95,572.2 222.95,572.2 222.95,560.73 225.25,557.8 222.95,554.87" fill="#c70322" stroke="#c70322" stroke-width="0.5"/>
<line x1="225.25" y1="557.8" x2="236.65" y2="557.8" stroke="#8e0a22" stroke-width="1.1"/>
<path d="M48.75,471.25 L48.75,620.75 L251,620.75" fill="none" stroke="#333333" stroke-width="1.3"/>
<text x="263.1" y="454.1" font-size="11.2" font-weight="bold" fill="#000">F</text>
<text x="412.88" y="454.8" font-size="9.2" text-anchor="middle" fill="#111">MCV</text>
<text x="311.75" y="466.8" font-size="7.3" textLength="31.8" lengthAdjust="spacingAndGlyphs" fill="#2a2a2a">n = 6605</text>
<line x1="308.75" y1="613.8" x2="311.75" y2="613.8" stroke="#333333" stroke-width="1"/>
<text x="305.45" y="616.6" font-size="8.4" text-anchor="end" fill="#2a2a2a" stroke="#2a2a2a" stroke-width="0.15">50</text>
<line x1="308.75" y1="579.73" x2="311.75" y2="579.73" stroke="#333333" stroke-width="1"/>
<text x="305.45" y="582.52" font-size="8.4" text-anchor="end" fill="#2a2a2a" stroke="#2a2a2a" stroke-width="0.15">75</text>
<line x1="308.75" y1="545.65" x2="311.75" y2="545.65" stroke="#333333" stroke-width="1"/>
<text x="305.45" y="548.45" font-size="8.4" text-anchor="end" fill="#2a2a2a" stroke="#2a2a2a" stroke-width="0.15">100</text>
<line x1="308.75" y1="511.58" x2="311.75" y2="511.58" stroke="#333333" stroke-width="1"/>
<text x="305.45" y="514.38" font-size="8.4" text-anchor="end" fill="#2a2a2a" stroke="#2a2a2a" stroke-width="0.15">125</text>
<line x1="308.75" y1="477.5" x2="311.75" y2="477.5" stroke="#333333" stroke-width="1"/>
<text x="305.45" y="480.3" font-size="8.4" text-anchor="end" fill="#2a2a2a" stroke="#2a2a2a" stroke-width="0.15">150</text>
<text transform="translate(285.2,545.9) rotate(-90)" x="0" y="0" font-size="9" text-anchor="middle" textLength="26" lengthAdjust="spacingAndGlyphs" fill="#2a2a2a" stroke="#2a2a2a" stroke-width="0.35">MCV (fL)</text>
<line x1="340.35" y1="620.75" x2="340.35" y2="623.75" stroke="#333333" stroke-width="1"/>
<text x="340.35" y="633.6" font-size="7.8" text-anchor="middle" fill="#2a2a2a" stroke="#2a2a2a" stroke-width="0.15">None</text>
<line x1="388.55" y1="620.75" x2="388.55" y2="623.75" stroke="#333333" stroke-width="1"/>
<text x="388.55" y="633.6" font-size="7.8" text-anchor="middle" fill="#2a2a2a" stroke="#2a2a2a" stroke-width="0.15">Low</text>
<line x1="436.75" y1="620.75" x2="436.75" y2="623.75" stroke="#333333" stroke-width="1"/>
<text x="436.75" y="633.6" font-size="7.8" text-anchor="middle" fill="#2a2a2a" stroke="#2a2a2a" stroke-width="0.15">Normal</text>
<line x1="484.95" y1="620.75" x2="484.95" y2="623.75" stroke="#333333" stroke-width="1"/>
<text x="484.95" y="633.6" font-size="7.8" text-anchor="middle" fill="#2a2a2a" stroke="#2a2a2a" stroke-width="0.15">Abundant</text>
<text x="412.88" y="647" font-size="8.8" text-anchor="middle" textLength="34.8" lengthAdjust="spacingAndGlyphs" fill="#2a2a2a" stroke="#2a2a2a" stroke-width="0.35">Iron storage</text>
<line x1="331.35" y1="536.2" x2="331.35" y2="558.2" stroke="#666666" stroke-width="1.25"/>
<line x1="331.35" y1="572.9" x2="331.35" y2="595.6" stroke="#666666" stroke-width="1.25"/>
<circle cx="331.35" cy="504.6" r="0.95" fill="#111"/>
<circle cx="331.35" cy="507" r="0.95" fill="#111"/>
<circle cx="331.35" cy="508.4" r="0.95" fill="#111"/>
<circle cx="331.35" cy="516.5" r="0.95" fill="#111"/>
<circle cx="331.35" cy="519.6" r="0.95" fill="#111"/>
<circle cx="331.35" cy="523.6" r="0.95" fill="#111"/>
<circle cx="331.35" cy="524.8" r="0.95" fill="#111"/>
<circle cx="331.35" cy="528.3" r="0.95" fill="#111"/>
<circle cx="331.35" cy="529.2" r="0.95" fill="#111"/>
<line x1="331.35" y1="596.5" x2="331.35" y2="603.8" stroke="#111" stroke-width="1.9" stroke-linecap="round"/>
<polygon points="323.35,558.2 339.35,558.2 339.35,563.63 337.05,565.1 339.35,566.57 339.35,572.9 323.35,572.9 323.35,566.57 325.65,565.1 323.35,563.63" fill="#0c4b8d" stroke="#0c4b8d" stroke-width="0.5"/>
<line x1="325.65" y1="565.1" x2="337.05" y2="565.1" stroke="#0a3466" stroke-width="1.1"/>
<line x1="349.35" y1="530" x2="349.35" y2="555.1" stroke="#666666" stroke-width="1.25"/>
<line x1="349.35" y1="571.8" x2="349.35" y2="596.7" stroke="#666666" stroke-width="1.25"/>
<circle cx="349.35" cy="516.8" r="0.95" fill="#111"/>
<circle cx="349.35" cy="522.3" r="0.95" fill="#111"/>
<circle cx="349.35" cy="524" r="0.95" fill="#111"/>
<circle cx="349.35" cy="529" r="0.95" fill="#111"/>
<circle cx="349.35" cy="597.8" r="0.95" fill="#111"/>
<circle cx="349.35" cy="599.5" r="0.95" fill="#111"/>
<circle cx="349.35" cy="601.1" r="0.95" fill="#111"/>
<circle cx="349.35" cy="607.3" r="0.95" fill="#111"/>
<polygon points="341.35,555.1 357.35,555.1 357.35,561.63 355.05,563.3 357.35,564.97 357.35,571.8 341.35,571.8 341.35,564.97 343.65,563.3 341.35,561.63" fill="#c70322" stroke="#c70322" stroke-width="0.5"/>
<line x1="343.65" y1="563.3" x2="355.05" y2="563.3" stroke="#8e0a22" stroke-width="1.1"/>
<line x1="379.55" y1="535.6" x2="379.55" y2="554" stroke="#666666" stroke-width="1.25"/>
<line x1="379.55" y1="566.2" x2="379.55" y2="582.2" stroke="#666666" stroke-width="1.25"/>
<circle cx="379.55" cy="485.6" r="0.95" fill="#111"/>
<circle cx="379.55" cy="503.8" r="0.95" fill="#111"/>
<circle cx="379.55" cy="524.4" r="0.95" fill="#111"/>
<circle cx="379.55" cy="528.9" r="0.95" fill="#111"/>
<circle cx="379.55" cy="531" r="0.95" fill="#111"/>
<circle cx="379.55" cy="533" r="0.95" fill="#111"/>
<circle cx="379.55" cy="584.4" r="0.95" fill="#111"/>
<circle cx="379.55" cy="587" r="0.95" fill="#111"/>
<circle cx="379.55" cy="590" r="0.95" fill="#111"/>
<circle cx="379.55" cy="592" r="0.95" fill="#111"/>
<circle cx="379.55" cy="594" r="0.95" fill="#111"/>
<circle cx="379.55" cy="596.7" r="0.95" fill="#111"/>
<polygon points="371.55,554 387.55,554 387.55,559 385.25,560.4 387.55,561.8 387.55,566.2 371.55,566.2 371.55,561.8 373.85,560.4 371.55,559" fill="#0c4b8d" stroke="#0c4b8d" stroke-width="0.5"/>
<line x1="373.85" y1="560.4" x2="385.25" y2="560.4" stroke="#0a3466" stroke-width="1.1"/>
<line x1="397.55" y1="530" x2="397.55" y2="552.2" stroke="#666666" stroke-width="1.25"/>
<line x1="397.55" y1="564.4" x2="397.55" y2="583.8" stroke="#666666" stroke-width="1.25"/>
<circle cx="397.55" cy="514" r="0.95" fill="#111"/>
<circle cx="397.55" cy="519.3" r="0.95" fill="#111"/>
<circle cx="397.55" cy="522" r="0.95" fill="#111"/>
<circle cx="397.55" cy="524.7" r="0.95" fill="#111"/>
<circle cx="397.55" cy="526.7" r="0.95" fill="#111"/>
<circle cx="397.55" cy="585.1" r="0.95" fill="#111"/>
<circle cx="397.55" cy="587" r="0.95" fill="#111"/>
<circle cx="397.55" cy="589" r="0.95" fill="#111"/>
<circle cx="397.55" cy="592.2" r="0.95" fill="#111"/>
<polygon points="389.55,552.2 405.55,552.2 405.55,556.8 403.25,558.2 405.55,559.6 405.55,564.4 389.55,564.4 389.55,559.6 391.85,558.2 389.55,556.8" fill="#c70322" stroke="#c70322" stroke-width="0.5"/>
<line x1="391.85" y1="558.2" x2="403.25" y2="558.2" stroke="#8e0a22" stroke-width="1.1"/>
<line x1="427.75" y1="534.4" x2="427.75" y2="551.6" stroke="#666666" stroke-width="1.25"/>
<line x1="427.75" y1="561.8" x2="427.75" y2="578.9" stroke="#666666" stroke-width="1.25"/>
<circle cx="427.75" cy="497.8" r="0.95" fill="#111"/>
<circle cx="427.75" cy="507.8" r="0.95" fill="#111"/>
<circle cx="427.75" cy="511.1" r="0.95" fill="#111"/>
<line x1="427.75" y1="517.8" x2="427.75" y2="534.4" stroke="#111" stroke-width="1.9" stroke-linecap="round"/>
<line x1="427.75" y1="578.9" x2="427.75" y2="582.2" stroke="#111" stroke-width="1.9" stroke-linecap="round"/>
<circle cx="427.75" cy="584.4" r="0.95" fill="#111"/>
<circle cx="427.75" cy="586.7" r="0.95" fill="#111"/>
<circle cx="427.75" cy="588.9" r="0.95" fill="#111"/>
<circle cx="427.75" cy="591.8" r="0.95" fill="#111"/>
<circle cx="427.75" cy="594.4" r="0.95" fill="#111"/>
<circle cx="427.75" cy="596.7" r="0.95" fill="#111"/>
<polygon points="419.75,551.6 435.75,551.6 435.75,555.7 433.45,557.1 435.75,558.5 435.75,561.8 419.75,561.8 419.75,558.5 422.05,557.1 419.75,555.7" fill="#0c4b8d" stroke="#0c4b8d" stroke-width="0.5"/>
<line x1="422.05" y1="557.1" x2="433.45" y2="557.1" stroke="#0a3466" stroke-width="1.1"/>
<line x1="445.75" y1="534.4" x2="445.75" y2="550.4" stroke="#666666" stroke-width="1.25"/>
<line x1="445.75" y1="561.6" x2="445.75" y2="578.4" stroke="#666666" stroke-width="1.25"/>
<circle cx="445.75" cy="493.3" r="0.95" fill="#111"/>
<circle cx="445.75" cy="508.9" r="0.95" fill="#111"/>
<line x1="445.75" y1="516.7" x2="445.75" y2="534.4" stroke="#111" stroke-width="1.9" stroke-linecap="round"/>
<circle cx="445.75" cy="583.3" r="0.95" fill="#111"/>
<circle cx="445.75" cy="585.5" r="0.95" fill="#111"/>
<circle cx="445.75" cy="588" r="0.95" fill="#111"/>
<circle cx="445.75" cy="590" r="0.95" fill="#111"/>
<polygon points="437.75,550.4 453.75,550.4 453.75,554.8 451.45,556.2 453.75,557.6 453.75,561.6 437.75,561.6 437.75,557.6 440.05,556.2 437.75,554.8" fill="#c70322" stroke="#c70322" stroke-width="0.5"/>
<line x1="440.05" y1="556.2" x2="451.45" y2="556.2" stroke="#8e0a22" stroke-width="1.1"/>
<line x1="475.95" y1="528.9" x2="475.95" y2="548.4" stroke="#666666" stroke-width="1.25"/>
<line x1="475.95" y1="560.7" x2="475.95" y2="578.4" stroke="#666666" stroke-width="1.25"/>
<line x1="475.95" y1="512.2" x2="475.95" y2="516" stroke="#111" stroke-width="1.9" stroke-linecap="round"/>
<circle cx="475.95" cy="518.5" r="0.95" fill="#111"/>
<circle cx="475.95" cy="521" r="0.95" fill="#111"/>
<line x1="475.95" y1="523" x2="475.95" y2="528.9" stroke="#111" stroke-width="1.9" stroke-linecap="round"/>
<line x1="475.95" y1="578.9" x2="475.95" y2="583" stroke="#111" stroke-width="1.9" stroke-linecap="round"/>
<circle cx="475.95" cy="585.5" r="0.95" fill="#111"/>
<circle cx="475.95" cy="588.9" r="0.95" fill="#111"/>
<circle cx="475.95" cy="594.9" r="0.95" fill="#111"/>
<polygon points="467.95,548.4 483.95,548.4 483.95,553.5 481.65,554.9 483.95,556.3 483.95,560.7 467.95,560.7 467.95,556.3 470.25,554.9 467.95,553.5" fill="#0c4b8d" stroke="#0c4b8d" stroke-width="0.5"/>
<line x1="470.25" y1="554.9" x2="481.65" y2="554.9" stroke="#0a3466" stroke-width="1.1"/>
<line x1="493.95" y1="524.4" x2="493.95" y2="547.3" stroke="#666666" stroke-width="1.25"/>
<line x1="493.95" y1="560.7" x2="493.95" y2="585.6" stroke="#666666" stroke-width="1.25"/>
<circle cx="493.95" cy="493.3" r="0.95" fill="#111"/>
<circle cx="493.95" cy="511.1" r="0.95" fill="#111"/>
<circle cx="493.95" cy="513" r="0.95" fill="#111"/>
<circle cx="493.95" cy="515.6" r="0.95" fill="#111"/>
<circle cx="493.95" cy="523.3" r="0.95" fill="#111"/>
<circle cx="493.95" cy="591.8" r="0.95" fill="#111"/>
<circle cx="493.95" cy="596.2" r="0.95" fill="#111"/>
<polygon points="485.95,547.3 501.95,547.3 501.95,553.5 499.65,554.9 501.95,556.3 501.95,560.7 485.95,560.7 485.95,556.3 488.25,554.9 485.95,553.5" fill="#c70322" stroke="#c70322" stroke-width="0.5"/>
<line x1="488.25" y1="554.9" x2="499.65" y2="554.9" stroke="#8e0a22" stroke-width="1.1"/>
<path d="M311.75,471.25 L311.75,620.75 L514,620.75" fill="none" stroke="#333333" stroke-width="1.3"/>
<line x1="236.7" y1="652.4" x2="236.7" y2="669.4" stroke="#666666" stroke-width="1.1"/><rect x="228.5" y="655.5" width="16.4" height="10.4" fill="#0c4b8d" stroke="#333" stroke-width="0.5"/><line x1="228.5" y1="660.7" x2="244.9" y2="660.7" stroke="#0a3466" stroke-width="1.1"/>
<text x="248" y="663.5" font-size="7.8" fill="#2a2a2a">Female</text>
<line x1="283.7" y1="652.4" x2="283.7" y2="669.4" stroke="#666666" stroke-width="1.1"/><rect x="275.5" y="655.5" width="16.4" height="10.4" fill="#c70322" stroke="#333" stroke-width="0.5"/><line x1="275.5" y1="660.7" x2="291.9" y2="660.7" stroke="#8e0a22" stroke-width="1.1"/>
<text x="294.5" y="663.5" font-size="7.8" fill="#2a2a2a">Male</text>
<rect x="0.5" y="0.5" width="519" height="675" fill="none" stroke="#555" stroke-width="1"/>
</svg></body></html>
